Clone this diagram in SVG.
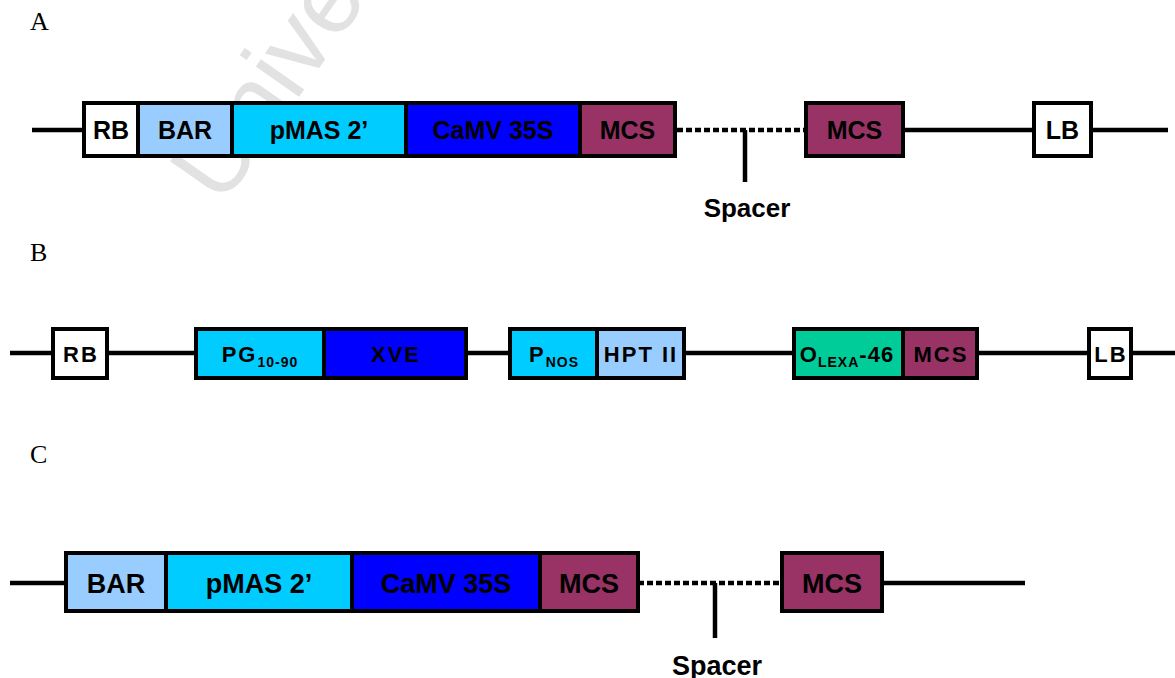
<svg xmlns="http://www.w3.org/2000/svg" width="1175" height="678" viewBox="0 0 1175 678">
<style>
.box{stroke:#000;stroke-width:4}
.wb{fill:#fff}.lb{fill:#99ccff}.cy{fill:#00ccff}.bl{fill:#0000ff}.mc{fill:#993366}.gr{fill:#00cc99}
.ln{stroke:#000;stroke-width:4.5;fill:none}
.dt{stroke:#000;stroke-width:4.5;fill:none;stroke-dasharray:6 3}
.ta{font-family:"Liberation Sans",Arial,sans-serif;font-weight:bold;font-size:25px;text-anchor:middle;fill:#000}
.tc{font-family:"Liberation Sans",Arial,sans-serif;font-weight:bold;font-size:27px;text-anchor:middle;fill:#000}
.tb{font-family:"Liberation Sans",Arial,sans-serif;font-weight:bold;font-size:22px;letter-spacing:2px;text-anchor:middle;fill:#000}
.sub{font-size:14px;letter-spacing:1px}
.lab{font-family:"Liberation Serif","Times New Roman",serif;font-size:26px;fill:#000}
</style>
<rect width="1175" height="678" fill="#fff"/>
<text x="222" y="207" transform="rotate(-55 222 207)" font-family="Liberation Sans, Arial, sans-serif" font-size="100" fill="#e2e2e2">Univer</text>
<g id="labels">
<text class="lab" x="30" y="30">A</text>
<text class="lab" x="30" y="261">B</text>
<text class="lab" x="30" y="463">C</text>
</g>
<g id="connectors">
<line class="ln" x1="32" y1="130" x2="84" y2="130"/>
<line class="dt" x1="677" y1="130" x2="806" y2="130"/>
<line class="ln" x1="745" y1="130" x2="745" y2="182"/>
<line class="ln" x1="903" y1="130" x2="1034" y2="130"/>
<line class="ln" x1="1091" y1="130" x2="1168" y2="130"/>
<line class="ln" x1="10" y1="353" x2="53" y2="353"/>
<line class="ln" x1="107" y1="353" x2="196" y2="353"/>
<line class="ln" x1="466" y1="353" x2="510" y2="353"/>
<line class="ln" x1="684" y1="353" x2="794" y2="353"/>
<line class="ln" x1="977" y1="353" x2="1089" y2="353"/>
<line class="ln" x1="1131" y1="353" x2="1175" y2="353"/>
<line class="ln" x1="10" y1="583" x2="66" y2="583"/>
<line class="dt" x1="638" y1="583" x2="782" y2="583"/>
<line class="ln" x1="715" y1="583" x2="715" y2="638"/>
<line class="ln" x1="882" y1="583" x2="1025" y2="583"/>
</g>
<g id="a-rb"><rect class="box wb" x="84" y="103" width="54" height="53"/><text class="ta" x="111" y="139">RB</text></g>
<g id="a-bar"><rect class="box lb" x="138" y="103" width="94" height="53"/><text class="ta" x="185" y="139">BAR</text></g>
<g id="a-pmas"><rect class="box cy" x="232" y="103" width="174" height="53"/><text class="ta" x="319" y="139">pMAS 2’</text></g>
<g id="a-camv"><rect class="box bl" x="406" y="103" width="174" height="53"/><text class="ta" x="493" y="139">CaMV 35S</text></g>
<g id="a-mcs1"><rect class="box mc" x="580" y="103" width="95" height="53"/><text class="ta" x="627.5" y="139">MCS</text></g>
<g id="a-mcs2"><rect class="box mc" x="806" y="103" width="97" height="53"/><text class="ta" x="854.5" y="139">MCS</text></g>
<g id="a-lb"><rect class="box wb" x="1034" y="103" width="57" height="53"/><text class="ta" x="1062.5" y="139">LB</text></g>
<g id="a-spacer"><text class="ta" x="747" y="217" style="font-size:26px">Spacer</text></g>
<g id="b-rb"><rect class="box wb" x="53" y="329" width="54" height="49"/><text class="tb" x="81" y="362">RB</text></g>
<g id="b-pg"><rect class="box cy" x="196" y="329" width="128" height="49"/><text class="tb" x="260" y="362">PG<tspan class="sub" dy="5">10-90</tspan></text></g>
<g id="b-xve"><rect class="box bl" x="324" y="329" width="142" height="49"/><text class="tb" x="396" y="362">XVE</text></g>
<g id="b-pnos"><rect class="box cy" x="510" y="329" width="87" height="49"/><text class="tb" x="554" y="362">P<tspan class="sub" dy="5">NOS</tspan></text></g>
<g id="b-hpt"><rect class="box lb" x="597" y="329" width="87" height="49"/><text class="tb" x="641" y="362">HPT II</text></g>
<g id="b-olexa"><rect class="box gr" x="794" y="329" width="109" height="49"/><text class="tb" x="847" y="362" style="letter-spacing:1px">O<tspan class="sub" dy="5">LEXA</tspan><tspan dy="-5">-46</tspan></text></g>
<g id="b-mcs"><rect class="box mc" x="903" y="329" width="74" height="49"/><text class="tb" x="941" y="362">MCS</text></g>
<g id="b-lb"><rect class="box wb" x="1089" y="329" width="42" height="49"/><text class="tb" x="1111" y="362">LB</text></g>
<g id="c-bar"><rect class="box lb" x="66" y="553" width="100" height="58"/><text class="tc" x="116" y="593">BAR</text></g>
<g id="c-pmas"><rect class="box cy" x="166" y="553" width="186" height="58"/><text class="tc" x="259" y="593">pMAS 2’</text></g>
<g id="c-camv"><rect class="box bl" x="352" y="553" width="188" height="58"/><text class="tc" x="446" y="593">CaMV 35S</text></g>
<g id="c-mcs1"><rect class="box mc" x="540" y="553" width="98" height="58"/><text class="tc" x="589" y="593">MCS</text></g>
<g id="c-mcs2"><rect class="box mc" x="782" y="553" width="100" height="58"/><text class="tc" x="832" y="593">MCS</text></g>
<g id="c-spacer"><text class="tc" x="717" y="675">Spacer</text></g>
</svg>
